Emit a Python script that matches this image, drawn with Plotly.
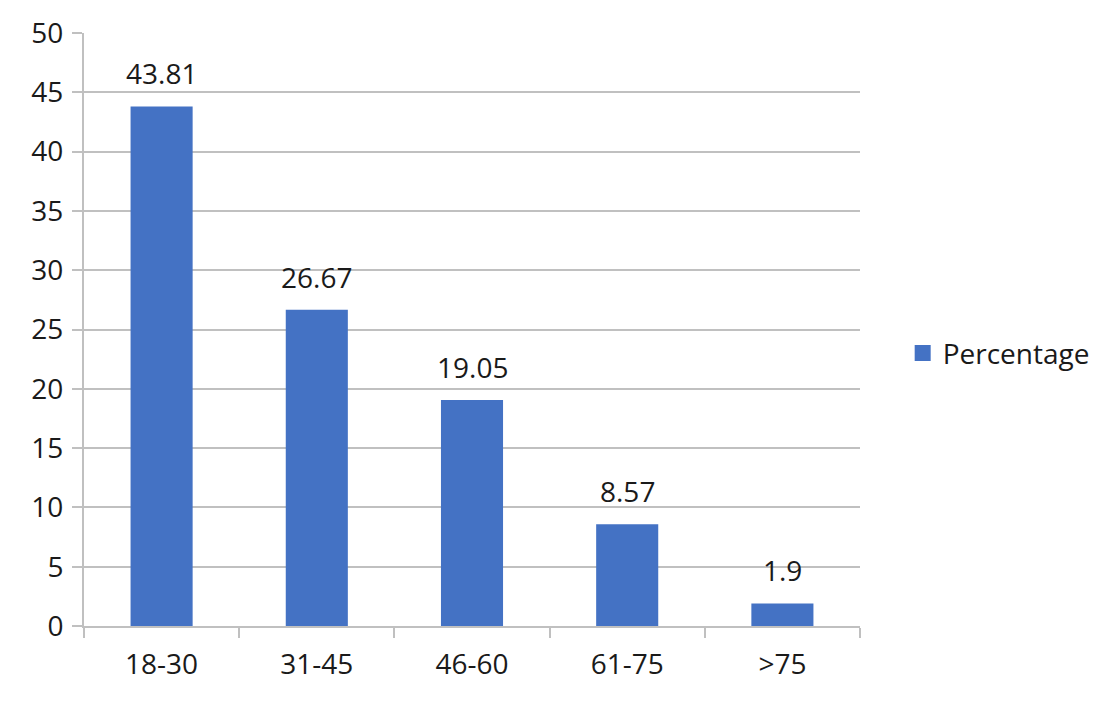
import plotly.graph_objects as go

# age groups and their share (%)
age_groups = ["18-30", "31-45", "46-60", "61-75", ">75"]
percentage = [43.81, 26.67, 19.05, 8.57, 1.9]
y_ticks = [0, 5, 10, 15, 20, 25, 30, 35, 40, 45, 50]

bar_color = "#4472C4"
grid_color = "#c0c0c0"
font_name = "Open Sans"

fig = go.Figure()
fig.add_trace(go.Bar(
    x=age_groups,
    y=percentage,
    name="Percentage",
    marker=dict(color=bar_color, line=dict(width=0)),
    showlegend=False,
))

# legend entry drawn with a bigger square than plotly's default bar swatch
fig.add_trace(go.Scatter(
    x=[None], y=[None], mode="markers", name="Percentage",
    marker=dict(symbol="square", size=17, color=bar_color),
    showlegend=True,
))

# value labels above the bars
for cat, val in zip(age_groups, percentage):
    fig.add_annotation(
        x=cat, y=val, text=str(val), showarrow=False,
        yanchor="bottom", yshift=12,
        font=dict(size=28, color="#1a1a1a", family=font_name),
    )

# page body adds an 8px offset, so margins are trimmed by that much
fig.update_layout(
    width=1105, height=703,
    margin=dict(l=76, r=253, t=25, b=85, autoexpand=False),
    paper_bgcolor="white",
    plot_bgcolor="white",
    font=dict(family=font_name, size=28, color="#1a1a1a"),
    bargap=0.6,
    showlegend=True,
    legend=dict(
        x=1.055, y=0.46, xanchor="left", yanchor="middle",
        font=dict(size=28),
        itemwidth=30,
        bgcolor="rgba(0,0,0,0)",
    ),
)

fig.update_xaxes(
    type="category", automargin=False,
    showline=True, linecolor=grid_color, linewidth=2,
    ticks="outside", tickson="boundaries", ticklen=10,
    tickcolor=grid_color, tickwidth=2,
    ticklabelstandoff=12,
    showgrid=False,
    tickfont=dict(size=28),
)

fig.update_yaxes(
    range=[0, 50], automargin=False,
    tickvals=y_ticks,
    showline=True, linecolor=grid_color, linewidth=2,
    ticks="outside", ticklen=10, tickcolor=grid_color, tickwidth=2,
    ticklabelstandoff=3,
    showgrid=True, gridcolor=grid_color, gridwidth=2,
    zeroline=False,
    tickfont=dict(size=28),
)

fig.write_html("out.html")
